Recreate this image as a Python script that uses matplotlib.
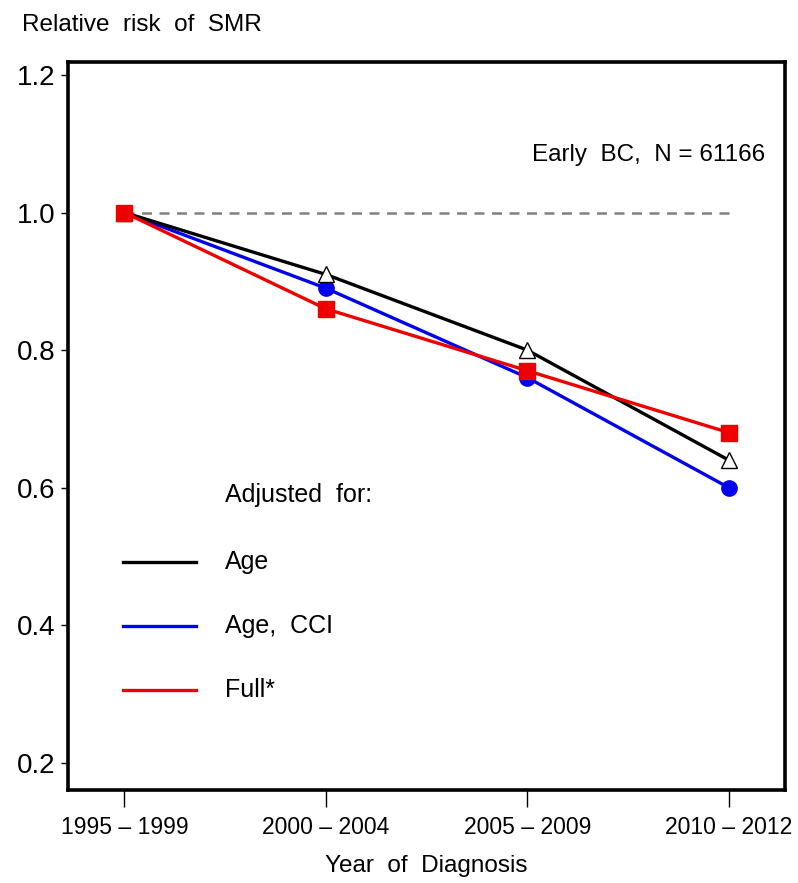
import matplotlib
matplotlib.use("Agg")
import matplotlib.pyplot as plt

plt.rcParams['font.family'] = ['Liberation Sans', 'DejaVu Sans']

perioder = ["1995 – 1999", "2000 – 2004", "2005 – 2009", "2010 – 2012"]
rr_age = [1.0, 0.91, 0.80, 0.64]
rr_age_cci = [1.0, 0.89, 0.76, 0.60]
rr_full = [1.0, 0.86, 0.77, 0.68]
serie_namn = ["Age", "Age,  CCI", "Full*"]
yticks = [0.2, 0.4, 0.6, 0.8, 1.0, 1.2]

fig = plt.figure(figsize=(7.98, 8.83), dpi=100)
ax = fig.add_axes([0.0852, 0.1053, 0.8985, 0.8245])

x = list(range(len(perioder)))

# referenslinje vid 1.0
ax.plot([x[0], x[-1]], [1.0, 1.0], color='#808080', linestyle=(0, (4, 3)), linewidth=1.8, zorder=1)

ax.plot(x, rr_age_cci, color='#0000ee', linewidth=2.4, marker='o', markersize=11, zorder=2)
ax.plot(x, rr_age, color='black', linewidth=2.4, marker='^', markersize=12,
        markerfacecolor='white', markeredgecolor='black', markeredgewidth=1.0, zorder=3)
ax.plot(x, rr_full, color='#ee0000', linewidth=2.4, marker='s', markersize=11, zorder=4)

ax.set_xlim(-0.28, 3.28)
ax.set_ylim(0.16, 1.219)
ax.set_xticks(x)
ax.set_xticklabels(perioder, fontsize=16.5)
ax.set_yticks(yticks)
ax.set_yticklabels([f"{v:.1f}" for v in yticks], fontsize=20)
ax.tick_params(axis='x', length=12, width=1, pad=7, direction='out')
ax.tick_params(axis='y', length=5, width=1, pad=4, direction='out')
for s in ax.spines.values():
    s.set_linewidth(2.6)

ax.set_xlabel("Year  of  Diagnosis", fontsize=17.5, labelpad=11)
fig.text(0.028, 0.972, "Relative  risk  of  SMR", fontsize=17.5, va='center', ha='left')

ax.text(0.972, 0.872, "Early  BC,  N = 61166", transform=ax.transAxes,
        fontsize=17.5, ha='right', va='center')

# forklaring
ax.text(0.219, 0.405, "Adjusted  for:", transform=ax.transAxes, fontsize=18, va='center')
farger = ['black', '#0000ee', '#ee0000']
ypos = [0.313, 0.225, 0.137]
for namn, farg, yy in zip(serie_namn, farger, ypos):
    ax.plot([0.077, 0.178], [yy, yy], color=farg, linewidth=2.4, transform=ax.transAxes)
    ax.text(0.219, yy, namn, transform=ax.transAxes, fontsize=18, va='center')

fig.savefig("out.png", dpi=100)
